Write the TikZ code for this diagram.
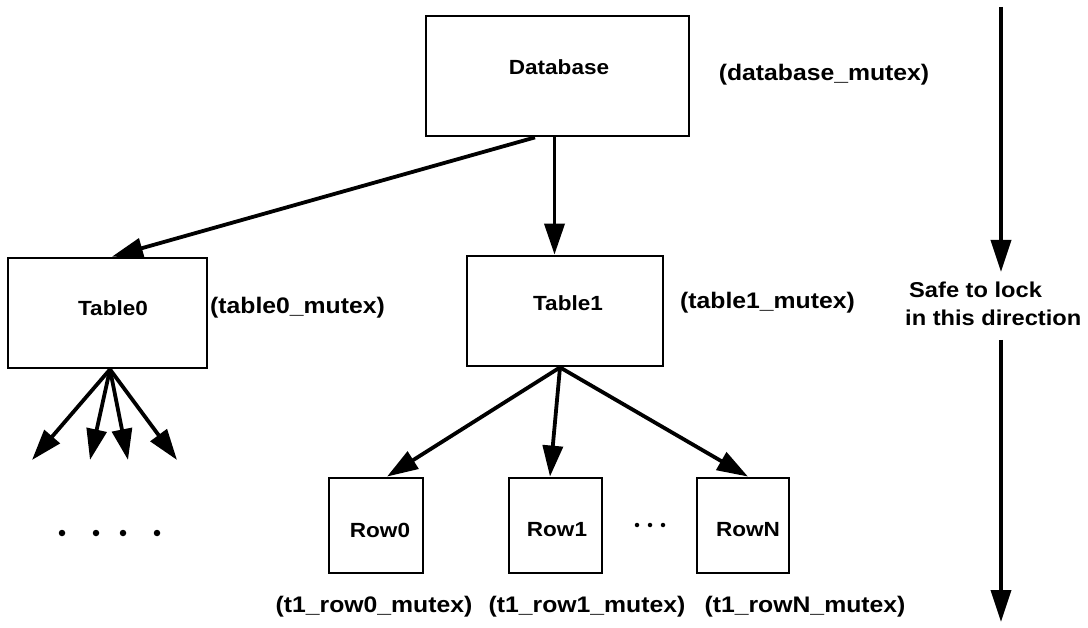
\documentclass[tikz,border=0pt]{standalone}
\usepackage{fontspec}
\setmainfont{Liberation Sans}
\newfontfamily\labfont{Liberation Sans}[FakeStretch=1.1]
\usetikzlibrary{arrows.meta}

\tikzset{
  box/.style={draw, line width=2.8pt, rectangle, inner sep=0pt},
  boxtext/.style={font=\labfont\bfseries\fontsize{20.5}{23}\selectfont, inner sep=0pt},
  mutex/.style={font=\labfont\bfseries\fontsize{22.5}{25}\selectfont, inner sep=0pt},
  hint/.style={font=\labfont\bfseries\fontsize{21.5}{24}\selectfont, inner sep=0pt, anchor=west},
  link/.style={line width=3.8pt, -{Triangle[length=31pt,width=20pt]}},
  dot/.style={circle, fill, inner sep=0pt, minimum size=6.5pt},
  smalldot/.style={circle, fill, inner sep=0pt, minimum size=4.5pt},
}

\begin{document}
\begin{tikzpicture}[x=1pt, y=-1pt]
  \useasboundingbox[fill=white] (0,0) rectangle (1088,628);

  % boxes
  \node[box, minimum width=263pt, minimum height=120pt] (db) at (557.5,76) {};
  \node[box, minimum width=199pt, minimum height=110pt] (t0) at (107.5,313) {};
  \node[box, minimum width=196pt, minimum height=110pt] (t1) at (565,311) {};
  \node[box, minimum width=94pt, minimum height=95pt] (r0) at (376,525.5) {};
  \node[box, minimum width=93pt, minimum height=95pt] (r1) at (555.5,525.5) {};
  \node[box, minimum width=92pt, minimum height=95pt] (rN) at (743,525.5) {};

  % box captions
  \node[boxtext] (dbt) at (559,67) {Database};
  \node[boxtext] (t0t) at (113,308) {Table0};
  \node[boxtext] (t1t) at (568,303) {Table1};
  \node[boxtext] (r0t) at (380,530) {Row0};
  \node[boxtext] (r1t) at (557,530) {Row1};
  \node[boxtext] (rNt) at (748,530) {RowN};

  % mutex names
  \node[mutex] (dbm) at (824,75) {(database\_mutex)};
  \node[mutex] (t0m) at (297.5,308) {(table0\_mutex)};
  \node[mutex] (t1m) at (767.5,303) {(table1\_mutex)};
  \node[mutex] (r0m) at (374,607) {(t1\_row0\_mutex)};
  \node[mutex] (r1m) at (587,607) {(t1\_row1\_mutex)};
  \node[mutex] (rNm) at (805,607) {(t1\_rowN\_mutex)};

  % tree links
  \draw[link] ([xshift=-22.5pt]db.south) -- ([xshift=4.5pt]t0.north);
  \draw[link] ([xshift=-3pt]db.south) -- ([xshift=-10.5pt]t1.north);
  \draw[link] ([xshift=-5pt]t1.south) -- ([xshift=11pt]r0.north);
  \draw[link] ([xshift=-5pt]t1.south) -- ([xshift=-5.5pt]r1.north);
  \draw[link] ([xshift=-5pt]t1.south) -- ([xshift=5pt]rN.north);

  % Table0 fan-out
  \coordinate (f1) at (32,460);
  \coordinate (f2) at (90,460);
  \coordinate (f3) at (128,460);
  \coordinate (f4) at (177,460);
  \foreach \f in {f1,f2,f3,f4}
    \draw[link] ([xshift=2.5pt]t0.south) -- (\f);

  % ellipses
  \foreach \x [count=\i] in {62,96,123,157}
    \node[dot] (d\i) at (\x,533) {};
  \foreach \x [count=\i] in {637,650,663}
    \node[smalldot] (e\i) at (\x,525) {};

  % locking direction
  \node[hint] (safe1) at (909,290) {Safe to lock};
  \node[hint] (safe2) at (905,318) {in this direction};
  \coordinate (dirtop) at (1001,7);
  \coordinate (dirmid) at (1001,272);
  \coordinate (dirlow) at (1001,340);
  \coordinate (dirend) at (1001,622);
  \draw[link, -{Triangle[length=32pt,width=20pt]}] (dirtop) -- (dirmid);
  \draw[link, -{Triangle[length=32pt,width=20pt]}] (dirlow) -- (dirend);
\end{tikzpicture}
\end{document}
